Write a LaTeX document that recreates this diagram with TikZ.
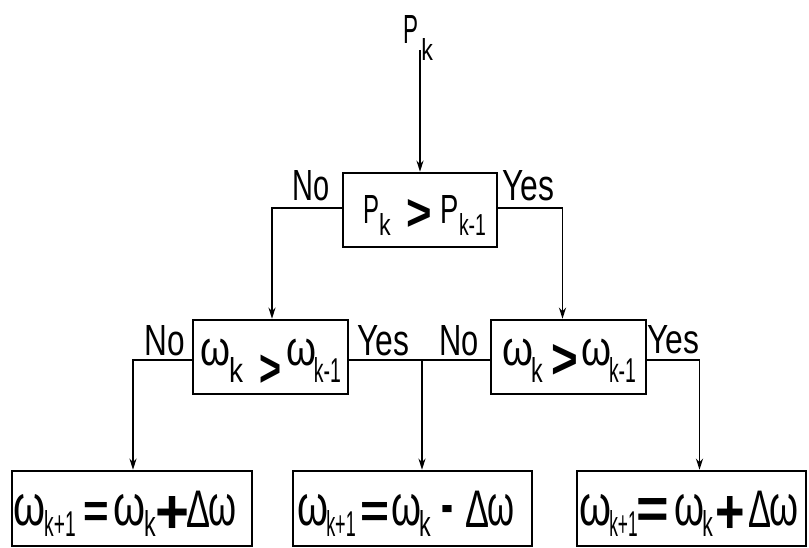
\documentclass[tikz,border=0pt]{standalone}
\usepackage{fontspec}
\setmainfont{Liberation Sans}
\newfontfamily\bd{Liberation Sans Bold}
\usetikzlibrary{arrows.meta}
% glyph scaled to width #1, height #2, lowered by #3
\newcommand{\G}[4]{\raisebox{-#3pt}{\resizebox{#1pt}{#2pt}{#4}}}
% zero-width item centred at #1 from the start of the line
\newcommand{\at}[2]{\makebox[0pt][l]{\hspace{#1pt}\makebox[0pt]{#2}}}
\begin{document}
\begin{tikzpicture}[x=1pt,y=-1pt,
  box/.style={draw, line width=2.6pt, inner sep=0pt, minimum height=74pt},
  dbox/.style={box, text height=36pt, text depth=20pt},
  rbox/.style={box, minimum height=75pt, text height=43pt, text depth=10pt},
  lbl/.style={inner sep=0pt, anchor=base west},
  con/.style={line width=1.8pt, -{Stealth[length=11pt,width=7pt]}}
]
\useasboundingbox (0,0) rectangle (809,547);
% top input
\node[inner sep=0pt, anchor=base west] (pk) at (405,43)
  {\makebox[30pt][l]{\at{6}{\G{15}{28}{0}{P}}\at{22}{\G{11.6}{22}{17}{k}}}};
% decision boxes
\node[box, minimum width=154pt, text height=40pt, text depth=14pt] (d1) at (420,210)
  {\makebox[154pt][l]{%
   \at{28.5}{\G{16}{28}{0}{P}}%
   \at{42}{\G{11.6}{22}{12}{k}}%
   \at{76}{\G{25.5}{31}{7}{\bd >}}%
   \at{106.5}{\G{18.3}{28}{0}{P}}%
   \at{129.5}{\G{27}{22}{12}{k-1}}}};
\node[dbox, minimum width=155pt] (d2) at (270.5,357)
  {\makebox[155pt][l]{%
   \at{23}{\G{30}{26.4}{0}{ω}}%
   \at{43}{\G{14}{25}{17}{k}}%
   \at{77}{\G{22}{31.5}{21.2}{\bd >}}%
   \at{108}{\G{30}{26.4}{0}{ω}}%
   \at{134.5}{\G{27}{25}{17}{k-1}}}};
\node[dbox, minimum width=155pt] (d3) at (568.5,357)
  {\makebox[155pt][l]{%
   \at{26.5}{\G{31}{26.4}{0}{ω}}%
   \at{46}{\G{11.6}{25}{17}{k}}%
   \at{74}{\G{26.7}{34}{13.4}{\bd >}}%
   \at{105}{\G{30}{26.4}{0}{ω}}%
   \at{131.5}{\G{27}{25}{17}{k-1}}}};
% result boxes
\node[rbox, minimum width=240pt] (r1) at (132,508.5)
  {\makebox[240pt][l]{%
   \at{18}{\G{32}{31}{0}{ω}}%
   \at{48}{\G{31.5}{26}{11}{k+1}}%
   \at{84}{\G{25.6}{25}{2.5}{\bd =}}%
   \at{118}{\G{32}{31}{0}{ω}}%
   \at{138}{\G{11.6}{26}{11}{k}}%
   \at{160}{\G{34}{37}{8.6}{\bd +}}%
   \at{186.5}{\G{24}{36.4}{2.9}{Δ}}%
   \at{211}{\G{28}{31}{0}{ω}}}};
\node[rbox, minimum width=239pt] (r2) at (412.5,508.5)
  {\makebox[239pt][l]{%
   \at{19.5}{\G{31}{31}{0}{ω}}%
   \at{48}{\G{29.5}{26}{11}{k+1}}%
   \at{81.5}{\G{29}{25}{2.5}{\bd =}}%
   \at{113}{\G{30}{31}{0}{ω}}%
   \at{132}{\G{11.6}{26}{11}{k}}%
   \at{154.5}{\G{12}{19}{-0.5}{\bd -}}%
   \at{184.5}{\G{24}{36.4}{2.9}{Δ}}%
   \at{207.5}{\G{27}{31}{0}{ω}}}};
\node[rbox, minimum width=229pt] (r3) at (691.5,508.5)
  {\makebox[229pt][l]{%
   \at{18}{\G{32}{31}{0}{ω}}%
   \at{46.5}{\G{28.4}{26}{11}{k+1}}%
   \at{76}{\G{32.6}{30}{3}{\bd =}}%
   \at{112}{\G{30}{31}{0}{ω}}%
   \at{130.5}{\G{10.5}{26}{11}{k}}%
   \at{153}{\G{29.5}{37}{8.6}{\bd +}}%
   \at{183}{\G{23}{36.4}{2.9}{Δ}}%
   \at{206.5}{\G{29}{31}{0}{ω}}}};
% labels
\node[lbl] (n1) at (292,200) {\resizebox{37pt}{30pt}{No}};
\node[lbl] (y1) at (502,200) {\resizebox{52pt}{30pt}{Yes}};
\node[lbl] (n2) at (144,355) {\resizebox{40.4pt}{30pt}{No}};
\node[lbl] (y2) at (357,355) {\resizebox{52pt}{30pt}{Yes}};
\node[lbl] (n3) at (439,355) {\resizebox{39.4pt}{30pt}{No}};
\node[lbl] (y3) at (647,353) {\resizebox{52pt}{28pt}{Yes}};
% connectors
\coordinate (j) at (422,360);
\draw[con] ([yshift=10pt]pk.south -| d1.north) -- (d1.north);
\draw[con] ([yshift=2pt]d1.west) -| ([xshift=1.5pt]d2.north);
\draw[con] ([yshift=2pt]d1.east) -| ([xshift=-6pt]d3.north);
\draw[con] ([yshift=-3pt]d2.west) -| ([xshift=1pt]r1.north);
\draw[line width=1.8pt] (j -| d2.east) -- (j) -- (j -| d3.west);
\draw[con] (j) -- (j |- r2.north);
\draw[con] ([yshift=-3pt]d3.east) -| ([xshift=8pt]r3.north);
\end{tikzpicture}
\end{document}
